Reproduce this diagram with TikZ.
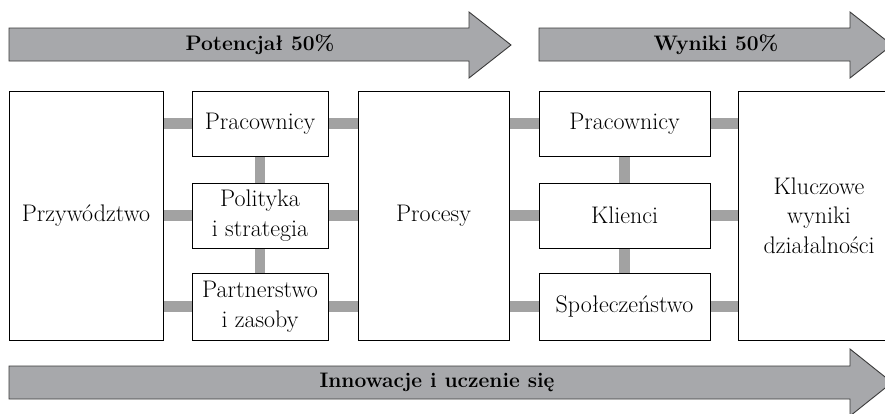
\documentclass[tikz,border=0pt]{standalone}
\usepackage{fontspec}
\usepackage{tikz}
\usetikzlibrary{backgrounds}
\definecolor{arrowgray}{HTML}{A7A8AB}
\definecolor{bargray}{HTML}{A2A2A2}
\definecolor{edgegray}{HTML}{3A3A3A}

\begin{document}
\begin{tikzpicture}[
		x=1pt, y=-1pt,
		box/.style={draw=black, line width=0.9pt, fill=white, align=center,
			inner sep=0pt, font=\fontsize{24}{29.5}\selectfont},
		bigbox/.style={box, minimum height=249pt},
		smallbox/.style={box, minimum height=65pt},
		band/.style={fill=arrowgray, draw=edgegray, line width=0.9pt, line join=miter},
		bandtext/.style={font=\bfseries\fontsize{21}{24}\selectfont},
		bar/.style={draw=bargray, line width=10.5pt}
	]
	\clip (0,0) rectangle (885,413);

	% arrows
	\filldraw[band]
		(9,28) -- (469,28) -- (469,12) -- (511,45)
		-- (469,78) -- (469,61) -- (9,61) -- cycle;
	\node[bandtext] (potencjal) at (260,45) {Potencjał 50\%};
	\filldraw[band]
		(539,28) -- (850,28) -- (850,12) -- (892,45)
		-- (850,78) -- (850,61) -- (539,61) -- cycle;
	\node[bandtext] (wyniki) at (716,45) {Wyniki 50\%};
	\filldraw[band]
		(9,366) -- (850,366) -- (850,349) -- (892,382.5)
		-- (850,416) -- (850,399) -- (9,399) -- cycle;
	\node[bandtext] (innowacje) at (437,382.5) {Innowacje i uczenie się};

	% boxes
	\node[bigbox, minimum width=154pt] (przywodztwo) at (86,215.5)
		{Przywództwo};
	\node[smallbox, minimum width=136pt] (pracA) at (260,123.5)
		{Pracownicy};
	\node[smallbox, minimum width=136pt] (polityka) at (260,215.5)
		{Polityka\\i strategia};
	\node[smallbox, minimum width=136pt, minimum height=67pt] (partnerstwo) at (260,306.5)
		{Partnerstwo\\i zasoby};
	\node[bigbox, minimum width=151pt] (procesy) at (433.5,215.5)
		{Procesy};
	\node[smallbox, minimum width=171pt] (pracB) at (624.5,123.5)
		{Pracownicy};
	\node[smallbox, minimum width=171pt] (klienci) at (624.5,215.5)
		{Klienci};
	\node[smallbox, minimum width=171pt, minimum height=67pt] (spoleczenstwo) at (624.5,306.5)
		{Społeczeństwo};
	\node[bigbox, minimum width=162pt] (kluczowe) at (819,215.5)
		{Kluczowe\\wyniki\\działalności};

	% connecting bars
	\begin{scope}[on background layer]
		\foreach \mid in {pracA, polityka, partnerstwo} {
			\draw[bar] (przywodztwo.east |- \mid) -- (\mid.west);
			\draw[bar] (\mid.east) -- (procesy.west |- \mid);
		}
		\foreach \mid in {pracB, klienci, spoleczenstwo} {
			\draw[bar] (procesy.east |- \mid) -- (\mid.west);
			\draw[bar] (\mid.east) -- (kluczowe.west |- \mid);
		}
		\draw[bar] (pracA) -- (partnerstwo);
		\draw[bar] (pracB) -- (spoleczenstwo);
	\end{scope}
\end{tikzpicture}
\end{document}
